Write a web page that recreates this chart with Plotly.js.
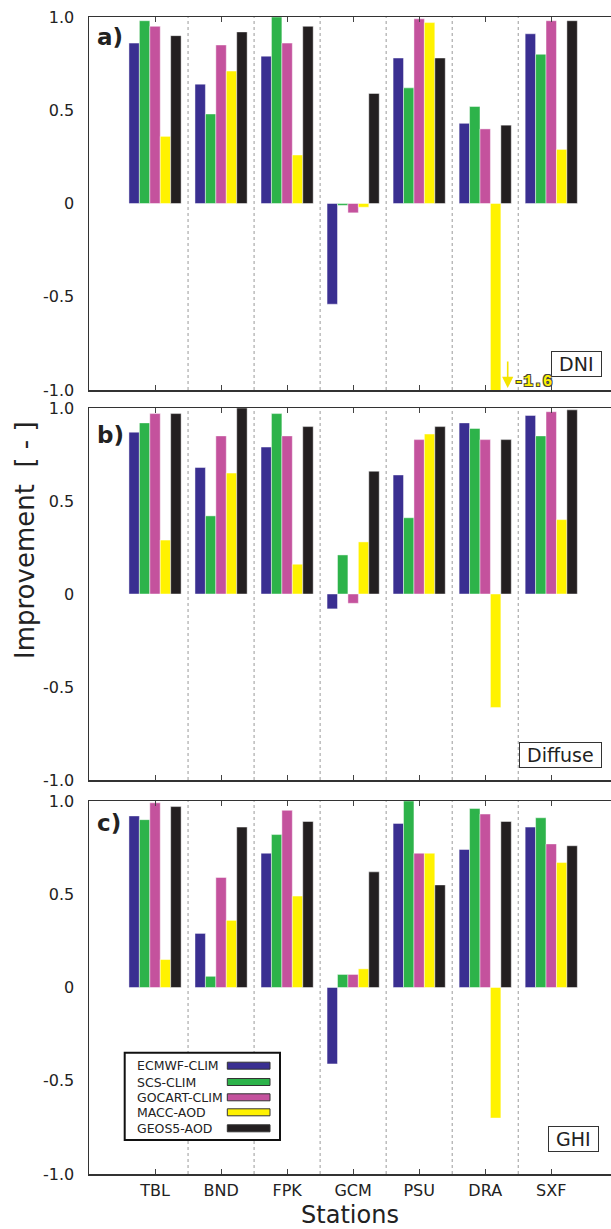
<!DOCTYPE html>
<html>
<head>
<meta charset="utf-8">
<script src="https://cdn.plot.ly/plotly-3.0.1.min.js"></script>
<style>html,body{margin:0;padding:0;background:#fff;}#chart{width:611px;height:1229px;}</style>
</head>
<body>
<div id="chart"></div>
<script>
// ---- Data ----
const stations = ['TBL', 'BND', 'FPK', 'GCM', 'PSU', 'DRA', 'SXF'];
const seriesNames = ['ECMWF-CLIM', 'SCS-CLIM', 'GOCART-CLIM', 'MACC-AOD', 'GEOS5-AOD'];
const seriesColors = ['#3a2f91', '#2db34a', '#c4529d', '#fff200', '#231f20'];
const panelNames = ['DNI', 'Diffuse', 'GHI'];
const panelLetters = ['a)', 'b)', 'c)'];

// DNI (panel a)
const dniEcmwf  = [0.86, 0.64, 0.79, -0.54, 0.78, 0.43, 0.91];
const dniScs    = [0.98, 0.48, 1.00, -0.01, 0.62, 0.52, 0.80];
const dniGocart = [0.95, 0.85, 0.86, -0.05, 0.99, 0.40, 0.98];
const dniMacc   = [0.36, 0.71, 0.26, -0.02, 0.97, -1.6, 0.29];
const dniGeos5  = [0.90, 0.92, 0.95, 0.59, 0.78, 0.42, 0.98];

// Diffuse (panel b)
const difEcmwf  = [0.87, 0.68, 0.79, -0.08, 0.64, 0.92, 0.96];
const difScs    = [0.92, 0.42, 0.97, 0.21, 0.41, 0.89, 0.85];
const difGocart = [0.97, 0.85, 0.85, -0.05, 0.83, 0.83, 0.98];
const difMacc   = [0.29, 0.65, 0.16, 0.28, 0.86, -0.61, 0.40];
const difGeos5  = [0.97, 1.00, 0.90, 0.66, 0.90, 0.83, 0.99];

// GHI (panel c)
const ghiEcmwf  = [0.92, 0.29, 0.72, -0.41, 0.88, 0.74, 0.86];
const ghiScs    = [0.90, 0.06, 0.82, 0.07, 1.00, 0.96, 0.91];
const ghiGocart = [0.99, 0.59, 0.95, 0.07, 0.72, 0.93, 0.77];
const ghiMacc   = [0.15, 0.36, 0.49, 0.10, 0.72, -0.70, 0.67];
const ghiGeos5  = [0.97, 0.86, 0.89, 0.62, 0.55, 0.89, 0.76];

const yTickVals = [1, 0.5, 0, -0.5, -1];
const yTickText = ['1.0', '0.5', '0', '-0.5', '-1.0'];
const dniOffscaleLabel = '-1.6';

// ---- Build ----
const panels = [
  [dniEcmwf, dniScs, dniGocart, dniMacc, dniGeos5],
  [difEcmwf, difScs, difGocart, difMacc, difGeos5],
  [ghiEcmwf, ghiScs, ghiGocart, ghiMacc, ghiGeos5]
];
const axSuffix = ['', '2', '3'];

const traces = [];
panels.forEach((series, p) => {
  series.forEach((vals, s) => {
    traces.push({
      type: 'bar',
      x: stations,
      y: vals,
      name: seriesNames[s],
      xaxis: 'x' + axSuffix[p],
      yaxis: 'y' + axSuffix[p],
      marker: {color: seriesColors[s], line: {color: 'rgba(255,255,255,0.45)', width: 1}},
      showlegend: false
    });
  });
});

// pixel -> paper helpers (plot area: x 89..611, y 17..1174)
const L = 89, W = 522, B = 1174, H = 1157;
const X = px => (px - L) / W;
const Y = py => (B - py) / H;

const FONT = 'DejaVu Sans, Verdana, sans-serif';
const TXT = '#222';

const domains = [[Y(390), 1], [Y(780), Y(408)], [0, Y(801)]];

const layout = {
  width: 611, height: 1229,
  margin: {l: L, r: 0, t: 17, b: 55},
  paper_bgcolor: '#fff', plot_bgcolor: '#fff',
  barmode: 'group', bargap: 0.21, bargroupgap: 0,
  showlegend: false,
  font: {family: FONT, color: TXT},
  shapes: [], annotations: []
};

for (let p = 0; p < 3; p++) {
  const xa = {
    type: 'category', categoryarray: stations,
    range: [-1, 6.905], anchor: 'y' + axSuffix[p],
    showline: true, linecolor: '#333', linewidth: 1.5, mirror: 'ticks',
    ticks: 'inside', ticklen: 5, tickcolor: '#444', tickwidth: 1,
    showgrid: false, zeroline: false,
    showticklabels: p === 2,
    tickfont: {family: FONT, size: 16, color: TXT},
    ticklabelstandoff: 1
  };
  if (p === 2) {
    xa.title = {text: 'Stations', font: {family: FONT, size: 24, color: TXT}, standoff: 10};
  }
  const ya = {
    domain: domains[p], range: [-1, 1], anchor: 'x' + axSuffix[p],
    showline: true, linecolor: '#333', linewidth: 1.5, mirror: false,
    ticks: '', tickvals: yTickVals, ticktext: yTickText,
    tickfont: {family: FONT, size: 16, color: TXT},
    ticklabelstandoff: 10,
    showgrid: false, zeroline: false
  };
  layout['xaxis' + axSuffix[p]] = xa;
  layout['yaxis' + axSuffix[p]] = ya;

  // dotted separators between stations
  for (let i = 0; i < stations.length - 1; i++) {
    layout.shapes.push({
      type: 'line', layer: 'below',
      xref: 'x' + axSuffix[p], yref: 'y' + axSuffix[p] + ' domain',
      x0: i + 0.5, x1: i + 0.5, y0: 0, y1: 1,
      line: {color: '#9a9a9a', width: 1, dash: 'dot'}
    });
  }
}

// panel letters
[37, 435, 823].forEach((py, p) => {
  layout.annotations.push({
    xref: 'paper', yref: 'paper', x: X(95), y: Y(py), xanchor: 'left', yanchor: 'middle',
    text: '<b>' + panelLetters[p] + '</b>', showarrow: false,
    font: {family: FONT, size: 23, color: TXT}
  });
});

// panel name boxes
[[601.7, 364], [601.7, 755], [599.3, 1139]].forEach((pos, p) => {
  layout.annotations.push({
    xref: 'paper', yref: 'paper', x: X(pos[0]), y: Y(pos[1]), xanchor: 'right', yanchor: 'middle',
    text: '\u00a0' + panelNames[p] + '\u00a0', showarrow: false,
    bordercolor: '#333', borderwidth: 1, borderpad: 1, bgcolor: '#fff',
    font: {family: FONT, size: 19, color: TXT}
  });
});

// off-scale arrow and label
layout.annotations.push({
  xref: 'paper', yref: 'paper', x: X(507.7), y: Y(388), text: '', showarrow: true,
  ax: 0, ay: -28, arrowcolor: '#f5e400', arrowhead: 2, arrowsize: 1.4, arrowwidth: 1.6
});
layout.annotations.push({
  xref: 'paper', yref: 'paper', x: X(512), y: Y(381.5), xanchor: 'left', yanchor: 'middle',
  text: '<b>' + dniOffscaleLabel + '</b>', showarrow: false,
  font: {family: 'Liberation Mono, DejaVu Sans Mono, monospace', size: 16, color: '#fff200',
         shadow: '-1px -1px 0 #444, 1px -1px 0 #444, -1px 1px 0 #444, 1px 1px 0 #444'}
});

// y title
layout.annotations.push({
  xref: 'paper', yref: 'paper', x: X(25), y: Y(540), xanchor: 'center', yanchor: 'middle',
  text: 'Improvement\u00a0\u00a0[ - ]', textangle: -90, showarrow: false,
  font: {family: FONT, size: 26, color: TXT}
});

// custom legend (text left, swatch right)
layout.shapes.push({
  type: 'rect', xref: 'paper', yref: 'paper', layer: 'above',
  x0: X(124.7), x1: X(280), y0: Y(1140), y1: Y(1052.7),
  line: {color: '#111', width: 2}, fillcolor: '#fff'
});
const rowY = [1065.7, 1082, 1097.3, 1112.3, 1128.3];
seriesNames.forEach((nm, s) => {
  layout.annotations.push({
    xref: 'paper', yref: 'paper', x: X(135), y: Y(rowY[s]), xanchor: 'left', yanchor: 'middle',
    text: nm, showarrow: false, font: {family: FONT, size: 12.5, color: TXT}
  });
  layout.shapes.push({
    type: 'rect', xref: 'paper', yref: 'paper', layer: 'above',
    x0: X(227.3), x1: X(270), y0: Y(rowY[s] + 3.5), y1: Y(rowY[s] - 3.5),
    line: {color: '#333', width: 1}, fillcolor: seriesColors[s]
  });
});

Plotly.newPlot('chart', traces, layout, {displayModeBar: false, staticPlot: true});
</script>
</body>
</html>
